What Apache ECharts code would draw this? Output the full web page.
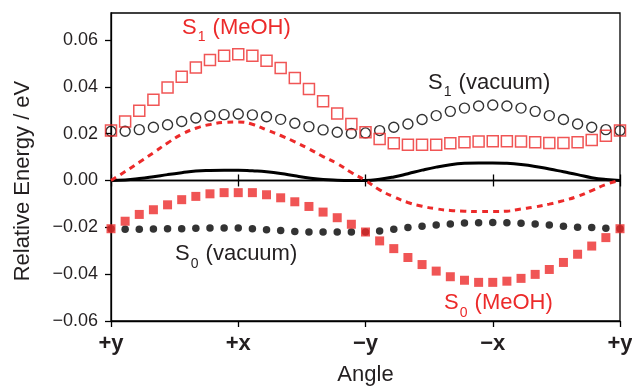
<!DOCTYPE html>
<html>
<head>
<meta charset="utf-8">
<title>Relative Energy vs Angle</title>
<script src="https://cdn.jsdelivr.net/npm/echarts@6.0.0/dist/echarts.min.js"></script>
<style>
  html, body { margin: 0; padding: 0; background: #fff; }
  #main { width: 632px; height: 387px; }
</style>
</head>
<body>
<div id="main"></div>
<script>
// 角度（度）：+y -> +x -> -y -> -x -> +y
var angles = [0, 10, 20, 30, 40, 50, 60, 70, 80, 90, 100, 110, 120, 130, 140, 150, 160, 170, 180,
  190, 200, 210, 220, 230, 240, 250, 260, 270, 280, 290, 300, 310, 320, 330, 340, 350, 360];
var xTickLabels = ['+y', '+x', '−y', '−x', '+y'];
var yTickValues = [-0.06, -0.04, -0.02, 0, 0.02, 0.04, 0.06];

// S1 (MeOH) 空心方块
var s1MeOH = [0.0213, 0.0252, 0.0298, 0.0345, 0.0397, 0.0443, 0.0482, 0.0514, 0.0532, 0.0539,
  0.0532, 0.0511, 0.0480, 0.0437, 0.0390, 0.0338, 0.0286, 0.0241, 0.0206, 0.0177, 0.0159, 0.0152,
  0.0152, 0.0153, 0.0159, 0.0163, 0.0166, 0.0167, 0.0167, 0.0166, 0.0163, 0.0160, 0.0160, 0.0163,
  0.0173, 0.0191, 0.0213];
// S1 (vacuum) 空心圆
var s1Vacuum = [0.0210, 0.0210, 0.0217, 0.0227, 0.0238, 0.0252, 0.0267, 0.0275, 0.0281, 0.0284,
  0.0280, 0.0272, 0.0261, 0.0244, 0.0230, 0.0216, 0.0206, 0.0201, 0.0203, 0.0213, 0.0227, 0.0241,
  0.0260, 0.0277, 0.0295, 0.0309, 0.0318, 0.0322, 0.0318, 0.0309, 0.0295, 0.0277, 0.0260, 0.0241,
  0.0227, 0.0217, 0.0213];
// S0 (MeOH) 实心方块
var s0MeOH = [-0.0206, -0.0174, -0.0145, -0.0125, -0.0104, -0.0082, -0.0068, -0.0057, -0.0052, -0.0052,
  -0.0052, -0.0061, -0.0074, -0.0091, -0.0111, -0.0135, -0.0159, -0.0187, -0.0220, -0.0258, -0.0291,
  -0.0329, -0.0359, -0.0387, -0.0411, -0.0426, -0.0435, -0.0435, -0.0430, -0.0418, -0.0401, -0.0380,
  -0.0350, -0.0315, -0.0280, -0.0244, -0.0206];
// S0 (vacuum) 实心圆
var s0Vacuum = [-0.0206, -0.0208, -0.0208, -0.0207, -0.0206, -0.0206, -0.0204, -0.0203, -0.0203, -0.0203,
  -0.0206, -0.0210, -0.0214, -0.0218, -0.0220, -0.0220, -0.0220, -0.0220, -0.0220, -0.0216, -0.0208,
  -0.0201, -0.0196, -0.0190, -0.0186, -0.0182, -0.0180, -0.0179, -0.0180, -0.0183, -0.0186, -0.0190,
  -0.0196, -0.0200, -0.0201, -0.0204, -0.0206];
// 红色虚线 (MeOH)
var lineMeOH = [0, 0.0038, 0.0078, 0.0118, 0.0160, 0.0197, 0.0223, 0.0239, 0.0248, 0.0250,
  0.0240, 0.0216, 0.0192, 0.0165, 0.0135, 0.0102, 0.0072, 0.0034, 0, -0.0040, -0.0070,
  -0.0094, -0.0110, -0.0121, -0.0128, -0.0131, -0.0133, -0.0133, -0.0131, -0.0122, -0.0113,
  -0.0101, -0.0086, -0.0068, -0.0043, -0.0017, 0];
// 黑色实线 (vacuum)
var lineVacuum = [0, 0.0002, 0.0008, 0.0016, 0.0025, 0.0033, 0.0040, 0.0043, 0.0044, 0.0044,
  0.0041, 0.0037, 0.0030, 0.0020, 0.0011, 0.0004, 0.0001, 0, 0, 0.0005, 0.0015,
  0.0029, 0.0044, 0.0057, 0.0067, 0.0073, 0.0075, 0.0075, 0.0073, 0.0068, 0.0060,
  0.0049, 0.0037, 0.0025, 0.0012, 0.0004, 0];

var RED = '#ec2a2a';
var INK = '#231f20';
var FONT = '"Liberation Sans", Arial, Helvetica, sans-serif';

function pairs(vals) {
  return angles.map(function (a, i) { return [a, vals[i]]; });
}

// 带下标的标注文字
function stateLabel(x, y, state, sub, medium, color) {
  return {
    type: 'text',
    x: x,
    y: y,
    z: 100,
    style: {
      text: state + '{sub|' + sub + '}' + ' (' + medium + ')',
      fontSize: 22,
      fontFamily: FONT,
      fill: color,
      verticalAlign: 'middle',
      textVerticalAlign: 'middle',
      rich: {
        sub: { fontSize: 14, fontFamily: FONT, fill: color, padding: [20, 1, 0, 1] }
      }
    }
  };
}

// 零线（上下各一段刻度）
function zeroAxis(inside) {
  return {
    type: 'value',
    min: 0,
    max: 360,
    interval: 90,
    axisLine: { onZero: true, onZeroAxisIndex: 0, lineStyle: { color: '#000', width: 1.3 } },
    axisTick: { show: true, inside: inside, length: 6, lineStyle: { color: '#000', width: 1.3 } },
    axisLabel: { show: false },
    splitLine: { show: false }
  };
}

var myChart = echarts.init(document.getElementById('main'));

var option = {
  animation: false,
  backgroundColor: '#fff',
  grid: {
    left: 111,
    right: 12,
    top: 13,
    bottom: 66,
    show: true,
    borderColor: '#000',
    borderWidth: 1.3,
    outerBoundsMode: 'none'
  },
  xAxis: [{
    type: 'value',
    min: 0,
    max: 360,
    interval: 90,
    position: 'bottom',
    name: 'Angle',
    nameLocation: 'middle',
    nameGap: 43,
    nameTextStyle: { fontSize: 22, fontFamily: FONT, color: INK },
    axisLine: { onZero: false, lineStyle: { color: '#000', width: 1.3 } },
    axisTick: { show: true, inside: false, length: 6, lineStyle: { color: '#000', width: 1.3 } },
    axisLabel: {
      margin: 12,
      fontSize: 22,
      fontWeight: 'bold',
      fontFamily: FONT,
      color: INK,
      formatter: function (v) { return xTickLabels[Math.round(v / 90)]; }
    },
    splitLine: { show: false }
  }, zeroAxis(true), zeroAxis(false)],
  yAxis: {
    type: 'value',
    min: -0.06,
    max: 0.0715,
    axisLine: { show: true, lineStyle: { color: '#000', width: 1.3 } },
    axisTick: { show: true, inside: false, length: 6, customValues: yTickValues, lineStyle: { color: '#000', width: 1.3 } },
    axisLabel: {
      margin: 13,
      fontSize: 18,
      fontFamily: FONT,
      color: INK,
      customValues: yTickValues,
      formatter: function (v) { return v.toFixed(2).replace('-', '−'); }
    },
    splitLine: { show: false }
  },
  graphic: [
    {
      type: 'text',
      x: 23,
      y: 181,
      rotation: Math.PI / 2,
      style: {
        text: 'Relative Energy / eV',
        fontSize: 22,
        fontFamily: FONT,
        fill: INK,
        align: 'center',
        verticalAlign: 'middle',
        textAlign: 'center',
        textVerticalAlign: 'middle'
      }
    },
    stateLabel(182, 27.5, 'S', '1', 'MeOH', RED),
    stateLabel(428, 82.5, 'S', '1', 'vacuum', INK),
    stateLabel(175, 254, 'S', '0', 'vacuum', INK),
    stateLabel(444, 303, 'S', '0', 'MeOH', RED)
  ],
  series: [
    {
      name: 'vacuum',
      type: 'line',
      data: pairs(lineVacuum),
      smooth: true,
      showSymbol: false,
      lineStyle: { color: '#000', width: 3 },
      z: 3
    },
    {
      name: 'MeOH',
      type: 'line',
      data: pairs(lineMeOH),
      smooth: true,
      showSymbol: false,
      lineStyle: { color: RED, width: 3, type: [6, 5] },
      z: 3
    },
    {
      name: 'S1 (vacuum)',
      type: 'scatter',
      data: pairs(s1Vacuum),
      symbol: 'circle',
      symbolSize: 10,
      itemStyle: { color: 'transparent', borderColor: '#000', borderWidth: 1.4 },
      z: 4
    },
    {
      name: 'S0 (vacuum)',
      type: 'scatter',
      data: pairs(s0Vacuum),
      symbol: 'circle',
      symbolSize: 7.5,
      itemStyle: { color: '#000' },
      z: 4
    },
    {
      name: 'S1 (MeOH)',
      type: 'scatter',
      data: pairs(s1MeOH),
      symbol: 'rect',
      symbolSize: 11,
      itemStyle: { color: 'transparent', borderColor: RED, borderWidth: 1.5 },
      z: 5
    },
    {
      name: 'S0 (MeOH)',
      type: 'scatter',
      data: pairs(s0MeOH),
      symbol: 'rect',
      symbolSize: 9,
      itemStyle: { color: RED },
      z: 5
    }
  ]
};

myChart.setOption(option);
</script>
</body>
</html>
